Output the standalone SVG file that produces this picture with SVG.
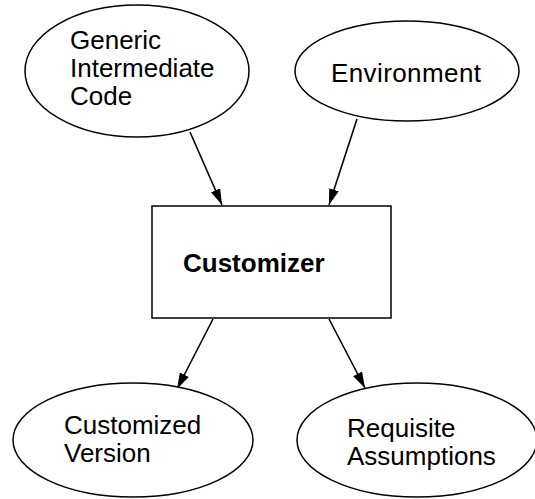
<svg xmlns="http://www.w3.org/2000/svg" width="535" height="499" viewBox="0 0 535 499">
<style>
.n{fill:#fff;stroke:#000;stroke-width:1.5}
.t{font-family:"Liberation Sans",Arial,sans-serif;font-size:26px;fill:#000}
.b{font-weight:bold}
.c{stroke:#000;stroke-width:1.6;fill:none;marker-end:url(#a)}
</style>
<defs>
<marker id="a" viewBox="0 0 16 10" refX="16" refY="5" markerWidth="16" markerHeight="10" markerUnits="userSpaceOnUse" orient="auto">
<path d="M0,0 L16,5 L0,10 z" fill="#000"/>
</marker>
</defs>
<rect width="535" height="499" fill="#fff"/>
<g id="connectors">
<line class="c" x1="190" y1="132" x2="222" y2="205"/>
<line class="c" x1="357" y1="119" x2="329" y2="205"/>
<line class="c" x1="213" y1="319" x2="177" y2="389"/>
<line class="c" x1="329" y1="319" x2="365" y2="388"/>
</g>
<g id="generic">
<ellipse class="n" cx="137" cy="71" rx="112" ry="66"/>
<text class="t" x="70" y="49">Generic</text>
<text class="t" x="70" y="77">Intermediate</text>
<text class="t" x="70" y="105">Code</text>
</g>
<g id="environment">
<ellipse class="n" cx="407" cy="71" rx="112" ry="50"/>
<text class="t" x="331" y="82" textLength="150">Environment</text>
</g>
<g id="customizer">
<rect class="n" x="152" y="206" width="239" height="112"/>
<text class="t b" x="183" y="272">Customizer</text>
</g>
<g id="customized">
<ellipse class="n" cx="133" cy="440" rx="120" ry="57"/>
<text class="t" x="64" y="434">Customized</text>
<text class="t" x="64" y="462">Version</text>
</g>
<g id="requisite">
<ellipse class="n" cx="417" cy="440" rx="120" ry="57"/>
<text class="t" x="347" y="437">Requisite</text>
<text class="t" x="347" y="465">Assumptions</text>
</g>
</svg>
